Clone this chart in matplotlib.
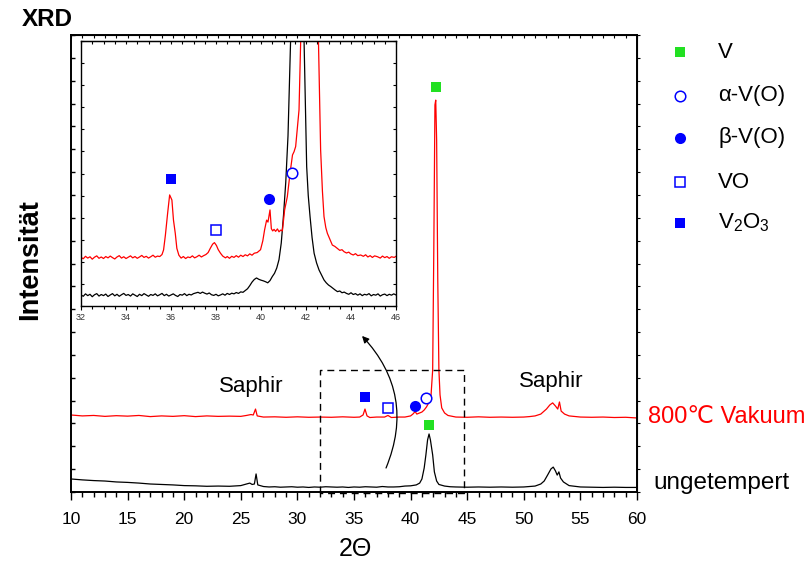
import numpy as np
import matplotlib
matplotlib.use("Agg")
import matplotlib.pyplot as plt
from matplotlib.ticker import MultipleLocator, NullFormatter
from matplotlib.lines import Line2D

plt.rcParams['font.family'] = ['Liberation Sans', 'DejaVu Sans']
plt.rcParams['mathtext.fontset'] = 'custom'
plt.rcParams['mathtext.rm'] = 'Liberation Sans'
plt.rcParams['mathtext.default'] = 'rm'

# ---------------- data ----------------
# full scan, as-deposited film (2theta, intensity a.u.)
scan_asdep = np.array([
    (10.0, 0.57), (11.0, 0.53), (12.0, 0.50), (13.0, 0.48), (14.0, 0.44), (15.0, 0.42),
    (16.0, 0.39), (17.0, 0.35), (18.0, 0.33), (19.0, 0.31), (20.0, 0.28), (21.0, 0.27),
    (22.0, 0.25), (23.0, 0.26), (24.0, 0.25), (25.0, 0.28), (25.5, 0.35), (25.8, 0.39),
    (26.0, 0.33), (26.2, 0.35), (26.35, 0.79), (26.5, 0.31), (27.0, 0.24), (27.5, 0.22),
    (28.0, 0.23), (28.5, 0.21), (29.0, 0.22), (29.5, 0.23), (30.0, 0.21), (30.5, 0.22),
    (31.0, 0.20), (31.5, 0.22), (32.0, 0.21), (32.5, 0.23), (33.0, 0.22), (33.5, 0.21),
    (34.0, 0.22), (34.5, 0.20), (35.0, 0.22), (35.5, 0.21), (36.0, 0.23), (36.5, 0.22),
    (37.0, 0.21), (37.5, 0.24), (38.0, 0.22), (38.5, 0.22), (39.0, 0.23), (39.5, 0.26),
    (40.0, 0.27), (40.5, 0.31), (40.8, 0.39), (41.0, 0.57), (41.2, 1.05), (41.35, 1.62),
    (41.5, 2.28), (41.63, 2.54), (41.75, 2.28), (41.95, 1.62), (42.1, 0.88), (42.3, 0.48),
    (42.5, 0.33), (43.0, 0.26), (43.5, 0.23), (44.0, 0.22), (45.0, 0.21), (46.0, 0.22),
    (47.0, 0.21), (48.0, 0.22), (49.0, 0.21), (50.0, 0.22), (50.5, 0.24), (51.0, 0.26),
    (51.5, 0.35), (51.8, 0.48), (52.1, 0.74), (52.4, 1.01), (52.6, 1.09), (52.8, 0.92),
    (52.95, 0.74), (53.1, 0.88), (53.25, 0.61), (53.5, 0.44), (54.0, 0.28), (55.0, 0.22),
    (56.0, 0.21), (57.0, 0.20), (58.0, 0.21), (59.0, 0.20), (60.0, 0.20),
])

# full scan, annealed 800 C in vacuum
scan_800 = np.array([
    (10.0, 3.37), (11.0, 3.33), (12.0, 3.35), (13.0, 3.31), (14.0, 3.34), (15.0, 3.32),
    (16.0, 3.35), (17.0, 3.30), (18.0, 3.33), (19.0, 3.31), (20.0, 3.34), (21.0, 3.30),
    (22.0, 3.33), (23.0, 3.31), (24.0, 3.32), (25.0, 3.31), (25.5, 3.35), (25.9, 3.39),
    (26.1, 3.37), (26.3, 3.63), (26.45, 3.33), (27.0, 3.28), (28.0, 3.29), (29.0, 3.27),
    (30.0, 3.29), (31.0, 3.27), (32.0, 3.28), (33.0, 3.27), (34.0, 3.29), (35.0, 3.27),
    (35.5, 3.28), (35.8, 3.37), (35.97, 3.63), (36.15, 3.33), (36.4, 3.26), (37.0, 3.28),
    (37.7, 3.28), (38.0, 3.35), (38.3, 3.26), (39.0, 3.28), (39.5, 3.28), (40.0, 3.33),
    (40.2, 3.41), (40.4, 3.52), (40.55, 3.41), (40.8, 3.46), (41.0, 3.50), (41.2, 3.59),
    (41.4, 3.72), (41.6, 3.90), (41.8, 4.20), (41.95, 5.34), (42.05, 10.6), (42.15, 16.94),
    (42.22, 17.15), (42.3, 15.4), (42.4, 9.28), (42.5, 5.34), (42.6, 4.25), (42.75, 3.68),
    (43.0, 3.46), (43.3, 3.35), (44.0, 3.28), (45.0, 3.27), (46.0, 3.29), (47.0, 3.27),
    (48.0, 3.28), (49.0, 3.27), (50.0, 3.28), (50.5, 3.30), (51.0, 3.33), (51.5, 3.41),
    (52.0, 3.63), (52.3, 3.81), (52.55, 3.90), (52.8, 3.76), (53.0, 3.63), (53.15, 3.94),
    (53.3, 3.54), (53.6, 3.41), (54.0, 3.33), (55.0, 3.28), (56.0, 3.27), (57.0, 3.28),
    (58.0, 3.26), (59.0, 3.27), (60.0, 3.24),
])

# detail scan 32-46 deg, annealed
detail_800 = np.array([
    (32.0, 2.20), (32.1, 2.14), (32.2, 2.25), (32.3, 2.17), (32.4, 2.23), (32.5, 2.12),
    (32.6, 2.21), (32.7, 2.27), (32.8, 2.16), (32.9, 2.22), (33.0, 2.15), (33.1, 2.24),
    (33.2, 2.18), (33.3, 2.26), (33.4, 2.19), (33.5, 2.13), (33.6, 2.22), (33.7, 2.28),
    (33.8, 2.17), (33.9, 2.23), (34.0, 2.15), (34.1, 2.21), (34.2, 2.27), (34.3, 2.18),
    (34.4, 2.24), (34.5, 2.16), (34.6, 2.22), (34.7, 2.29), (34.8, 2.20), (34.9, 2.25),
    (35.0, 2.17), (35.1, 2.23), (35.2, 2.30), (35.3, 2.21), (35.4, 2.26), (35.5, 2.24),
    (35.6, 2.33), (35.67, 2.54), (35.75, 3.20), (35.85, 4.20), (35.94, 5.03), (36.04, 4.80),
    (36.11, 3.89), (36.19, 3.29), (36.26, 2.61), (36.35, 2.30), (36.45, 2.17), (36.55, 2.24),
    (36.65, 2.15), (36.75, 2.22), (36.85, 2.19), (36.95, 2.27), (37.05, 2.18), (37.15, 2.23),
    (37.25, 2.30), (37.35, 2.22), (37.45, 2.28), (37.55, 2.33), (37.65, 2.42), (37.75, 2.62),
    (37.85, 2.80), (37.93, 2.87), (38.02, 2.74), (38.10, 2.55), (38.20, 2.39), (38.30, 2.26),
    (38.42, 2.18), (38.5, 2.24), (38.6, 2.16), (38.7, 2.25), (38.8, 2.20), (38.9, 2.28),
    (39.0, 2.21), (39.1, 2.30), (39.2, 2.24), (39.3, 2.32), (39.4, 2.27), (39.5, 2.36),
    (39.6, 2.30), (39.7, 2.39), (39.83, 2.42), (39.98, 2.55), (40.08, 2.95), (40.16, 3.45),
    (40.25, 3.89), (40.31, 3.80), (40.40, 4.35), (40.46, 3.50), (40.52, 3.40), (40.58, 3.47),
    (40.65, 3.38), (40.73, 3.49), (40.80, 3.36), (40.88, 3.44), (40.95, 3.40), (41.05, 4.35),
    (41.17, 4.95), (41.29, 6.01), (41.40, 6.84), (41.47, 6.99), (41.54, 7.22), (41.62, 8.12),
    (41.69, 8.88), (41.77, 12.2), (41.9, 18.0), (42.1, 26.0), (42.25, 28.0), (42.45, 18.0),
    (42.55, 12.2), (42.65, 7.07), (42.73, 5.20), (42.80, 4.05), (42.88, 3.55), (42.95, 3.29),
    (43.05, 3.05), (43.17, 2.76), (43.28, 2.70), (43.39, 2.61), (43.5, 2.52), (43.6, 2.55),
    (43.69, 2.46), (43.8, 2.40), (43.9, 2.44), (43.99, 2.36), (44.1, 2.31), (44.2, 2.37),
    (44.3, 2.28), (44.43, 2.31), (44.55, 2.25), (44.65, 2.32), (44.75, 2.22), (44.85, 2.28),
    (44.95, 2.20), (45.05, 2.27), (45.18, 2.23), (45.3, 2.17), (45.4, 2.26), (45.5, 2.19),
    (45.6, 2.24), (45.7, 2.16), (45.8, 2.23), (45.92, 2.20), (46.0, 2.25),
])

# detail scan 32-46 deg, as-deposited
detail_asdep = np.array([
    (32.0, 0.50), (32.1, 0.44), (32.2, 0.55), (32.3, 0.47), (32.4, 0.53), (32.5, 0.42),
    (32.6, 0.51), (32.7, 0.56), (32.8, 0.45), (32.9, 0.52), (33.0, 0.47), (33.1, 0.54),
    (33.2, 0.43), (33.3, 0.50), (33.4, 0.56), (33.5, 0.46), (33.6, 0.53), (33.7, 0.44),
    (33.8, 0.51), (33.9, 0.57), (34.0, 0.48), (34.1, 0.52), (34.2, 0.45), (34.3, 0.55),
    (34.4, 0.49), (34.5, 0.43), (34.6, 0.53), (34.7, 0.47), (34.8, 0.56), (34.9, 0.50),
    (35.0, 0.44), (35.1, 0.52), (35.2, 0.48), (35.3, 0.55), (35.4, 0.46), (35.5, 0.51),
    (35.6, 0.57), (35.7, 0.47), (35.8, 0.53), (35.9, 0.45), (36.0, 0.50), (36.1, 0.55),
    (36.2, 0.48), (36.3, 0.43), (36.4, 0.52), (36.5, 0.49), (36.6, 0.56), (36.7, 0.47),
    (36.8, 0.53), (36.9, 0.50), (37.0, 0.56), (37.1, 0.59), (37.2, 0.62), (37.3, 0.57),
    (37.4, 0.63), (37.5, 0.58), (37.6, 0.54), (37.7, 0.59), (37.8, 0.51), (37.9, 0.48),
    (38.0, 0.53), (38.1, 0.46), (38.2, 0.50), (38.3, 0.55), (38.4, 0.49), (38.5, 0.57),
    (38.6, 0.52), (38.7, 0.58), (38.8, 0.55), (38.9, 0.61), (39.0, 0.57), (39.1, 0.64),
    (39.2, 0.62), (39.3, 0.70), (39.4, 0.78), (39.5, 0.92), (39.6, 1.08), (39.7, 1.20),
    (39.8, 1.27), (39.9, 1.21), (40.0, 1.17), (40.1, 1.14), (40.2, 1.10), (40.3, 1.05),
    (40.4, 1.15), (40.5, 1.33), (40.6, 1.48), (40.7, 1.72), (40.8, 2.10), (40.9, 2.85),
    (41.0, 4.10), (41.1, 5.60), (41.2, 7.70), (41.32, 12.2), (41.5, 25.0), (41.65, 30.0),
    (41.8, 25.0), (41.91, 12.2), (42.03, 6.31), (42.1, 5.00), (42.18, 4.05), (42.27, 3.10),
    (42.36, 2.39), (42.47, 1.95), (42.58, 1.63), (42.7, 1.38), (42.8, 1.18), (42.9, 1.05),
    (43.0, 0.95), (43.1, 0.88), (43.2, 0.80), (43.3, 0.72), (43.4, 0.65), (43.5, 0.68),
    (43.6, 0.60), (43.7, 0.63), (43.8, 0.57), (43.9, 0.53), (44.0, 0.60), (44.1, 0.52),
    (44.2, 0.56), (44.3, 0.49), (44.4, 0.55), (44.5, 0.47), (44.6, 0.53), (44.7, 0.50),
    (44.8, 0.56), (44.9, 0.46), (45.0, 0.52), (45.1, 0.49), (45.2, 0.55), (45.3, 0.45),
    (45.4, 0.51), (45.5, 0.54), (45.6, 0.47), (45.7, 0.53), (45.8, 0.49), (45.9, 0.55),
    (46.0, 0.50),
])

# phase markers (2theta, height) in the full scan
marks_V = [(41.63, 2.93), (42.24, 17.72)]
marks_aVO = [(41.40, 4.11)]
marks_bVO = [(40.40, 3.76)]
marks_VO = [(38.00, 3.68)]
marks_V2O3 = [(35.97, 4.16)]
# phase markers in the detail scan
detail_aVO = [(41.36, 6.02)]
detail_bVO = [(40.34, 4.85)]
detail_VO = [(38.00, 3.44)]
detail_V2O3 = [(36.00, 5.75)]

legend_labels = ['V', 'α-V(O)', 'β-V(O)', 'VO', 'V$_2$O$_3$']
main_xticks = [10, 15, 20, 25, 30, 35, 40, 45, 50, 55, 60]
detail_xticks = [32, 34, 36, 38, 40, 42, 44, 46]

# ---------------- styles ----------------
RED = '#ff0000'
BLUE = '#0000ff'
GREEN = '#22e022'
W, H = 810, 565

sty = {
    'V': dict(marker='s', color=GREEN, mfc=GREEN, mec=GREEN, ms=7.2, mew=0),
    'aVO': dict(marker='o', color=BLUE, mfc='white', mec=BLUE, ms=7.6, mew=1.1),
    'bVO': dict(marker='o', color=BLUE, mfc=BLUE, mec=BLUE, ms=8.0, mew=0),
    'VO': dict(marker='s', color=BLUE, mfc='white', mec=BLUE, ms=7.0, mew=1.1),
    'V2O3': dict(marker='s', color=BLUE, mfc=BLUE, mec=BLUE, ms=7.6, mew=0),
}

fig = plt.figure(figsize=(W / 100, H / 100), dpi=100)


def frac(x0, y0, x1, y1):
    return [x0 / W, 1 - y1 / H, (x1 - x0) / W, (y1 - y0) / H]


# ---------------- main panel ----------------
ax = fig.add_axes(frac(71, 35, 637, 492))
ax.plot(scan_asdep[:, 0], scan_asdep[:, 1], color='black', lw=0.9)
ax.plot(scan_800[:, 0], scan_800[:, 1], color=RED, lw=0.9)

for pts, key in [(marks_V, 'V'), (marks_aVO, 'aVO'), (marks_bVO, 'bVO'),
                 (marks_VO, 'VO'), (marks_V2O3, 'V2O3')]:
    p = np.array(pts)
    ax.plot(p[:, 0], p[:, 1], ls='none', zorder=5, **sty[key])

ax.set_xlim(10, 60)
ax.set_ylim(0, 20)
ax.xaxis.set_major_locator(MultipleLocator(5))
ax.xaxis.set_minor_locator(MultipleLocator(1))
ax.set_xticks(main_xticks)
ax.set_xticklabels([str(t) for t in main_xticks])
ax.yaxis.set_major_locator(MultipleLocator(1))
ax.yaxis.set_major_formatter(NullFormatter())
ax.tick_params(axis='x', which='major', direction='out', length=6, width=1,
               labelsize=12.5, pad=8.5)
ax.tick_params(axis='x', which='minor', direction='out', length=3.3, width=1)
ax.tick_params(axis='y', which='major', direction='in', length=3, width=1)
for s in ax.spines.values():
    s.set_linewidth(1.4)

top = ax.secondary_xaxis('top')
top.xaxis.set_major_locator(MultipleLocator(1))
top.xaxis.set_major_formatter(NullFormatter())
top.tick_params(direction='in', length=2, width=0.8)
right = ax.secondary_yaxis('right')
right.yaxis.set_major_locator(MultipleLocator(1))
right.yaxis.set_major_formatter(NullFormatter())
right.tick_params(direction='out', length=2.5, width=0.8)

# zoom window and arrow pointing to the detail panel
rx0, rx1, ry0, ry1 = 31.96, 44.75, -0.05, 5.34
ax.plot([rx0, rx0, rx1, rx1, rx0], [ry0, ry1, ry1, ry0, ry0], color='black',
        lw=1.0, ls=(0, (5, 3.5)), clip_on=False, zorder=4)
ax.annotate('', xy=(35.71, 6.83), xytext=(37.83, 1.05),
            arrowprops=dict(arrowstyle='-|>', connectionstyle='arc3,rad=0.32',
                            lw=0.9, color='black', shrinkA=0, shrinkB=0,
                            mutation_scale=10))

ax.text(25.9, 4.6, 'Saphir', fontsize=16, ha='center', va='center')
ax.text(52.4, 4.85, 'Saphir', fontsize=16, ha='center', va='center')

# ---------------- detail panel ----------------
ins = fig.add_axes(frac(81, 41, 396, 306))
ins.set_facecolor('white')
ins.set_zorder(3)
ins.plot(detail_asdep[:, 0], detail_asdep[:, 1], color='black', lw=0.9)
ins.plot(detail_800[:, 0], detail_800[:, 1], color=RED, lw=0.9)
for pts, key in [(detail_aVO, 'aVO'), (detail_bVO, 'bVO'),
                 (detail_VO, 'VO'), (detail_V2O3, 'V2O3')]:
    p = np.array(pts)
    ins.plot(p[:, 0], p[:, 1], ls='none', zorder=5, **sty[key])
ins.set_xlim(32, 46)
ins.set_ylim(0, 12)
ins.set_xticks(detail_xticks)
ins.set_xticklabels([str(t) for t in detail_xticks])
ins.xaxis.set_minor_locator(MultipleLocator(0.5))
ins.yaxis.set_major_locator(MultipleLocator(1))
ins.yaxis.set_major_formatter(NullFormatter())
ins.tick_params(axis='x', which='major', direction='out', length=3, width=0.8,
                labelsize=6.5, pad=2, labelcolor='#333333')
ins.tick_params(axis='x', which='minor', direction='out', length=1.8, width=0.8)
ins.tick_params(axis='y', which='major', direction='in', length=2.2, width=0.8,
                left=True, right=True)
for s in ins.spines.values():
    s.set_linewidth(1.0)
itop = ins.secondary_xaxis('top')
itop.xaxis.set_major_locator(MultipleLocator(0.5))
itop.xaxis.set_major_formatter(NullFormatter())
itop.tick_params(direction='in', length=1.8, width=0.8)

# ---------------- labels ----------------
fig.text(22 / W, 1 - 20 / H, 'XRD', fontsize=17.5, fontweight='bold',
         ha='left', va='center')
fig.text(30 / W, 1 - 260 / H, 'Intensität', fontsize=19.5, fontweight='bold',
         rotation=90, ha='center', va='center')
fig.text(355 / W, 1 - 549 / H, '2Θ', fontsize=18, ha='center', va='center')
fig.text(648 / W, 1 - 417 / H, '800℃ Vakuum', fontsize=17, color=RED,
         ha='left', va='center')
fig.text(653 / W, 1 - 483 / H, 'ungetempert', fontsize=17.5, color='black',
         ha='left', va='center')

# phase legend
leg_y = [52, 96, 138, 182, 223]
for key, lab, yy in zip(['V', 'aVO', 'bVO', 'VO', 'V2O3'], legend_labels, leg_y):
    st = dict(sty[key])
    fig.add_artist(Line2D([680 / W], [1 - yy / H], ls='none', **st))
    fig.text(718 / W, 1 - yy / H, lab, fontsize=16, ha='left', va='center')

fig.savefig('out.png', dpi=100)
